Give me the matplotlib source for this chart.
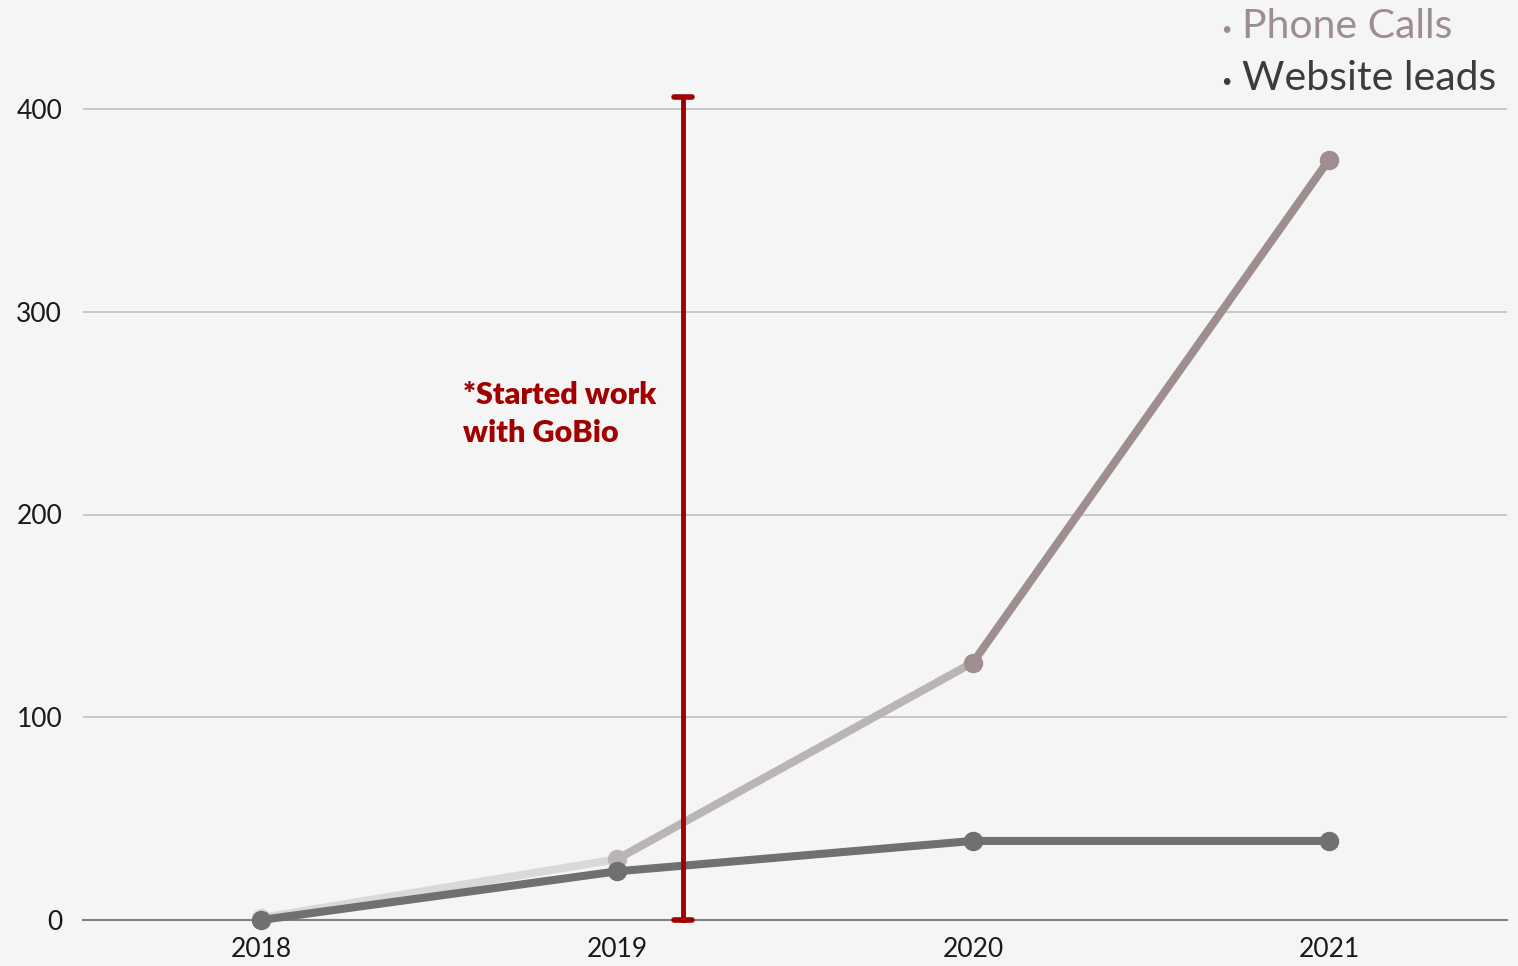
import matplotlib.pyplot as plt

years = [2018, 2019, 2020, 2021]
phone_calls = [1, 30, 127, 375]
website_leads = [0, 24, 39, 39]
y_ticks = [0, 100, 200, 300, 400]

start_year = 2019.185
start_top = 406
note = "*Started work\nwith GoBio"

bg = "#f5f5f5"
phone_seg_colors = ["#d9d9d9", "#bab4b6", "#9e8e8f"]
phone_pt_colors = ["#d9d9d9", "#bab4b6", "#9e8e8f", "#9e8e8f"]
web_color = "#707070"
red = "#a00000"

plt.rcParams['font.family'] = ['Lato', 'DejaVu Sans']

fig = plt.figure(figsize=(15.18, 9.66), dpi=100, facecolor=bg)
ax = fig.add_axes([83 / 1518, 46 / 966, 1424 / 1518, 920 / 966])
ax.set_facecolor(bg)
ax.set_xlim(2017.5, 2021.5)
ax.set_ylim(0, 920 / 2.0275)

for s in ax.spines.values():
    s.set_visible(False)
ax.set_yticks(y_ticks)
ax.set_xticks(years)
ax.set_yticklabels([str(v) for v in y_ticks], fontsize=19, color="#1a1a1a")
ax.set_xticklabels([str(v) for v in years], fontsize=19, color="#1a1a1a")
ax.tick_params(axis='y', length=0, pad=15)
ax.tick_params(axis='x', length=0, pad=12)
for v in y_ticks[1:]:
    ax.axhline(v, color="#c4c4c4", lw=1.3, zorder=1)
ax.axhline(0, color="#808080", lw=1.5, zorder=1, clip_on=False)

# phone calls, one colour per segment
for i in range(len(years) - 1):
    ax.plot(years[i:i + 2], phone_calls[i:i + 2], color=phone_seg_colors[i],
            lw=5.8, solid_capstyle='round', zorder=3)
for x, y, c in zip(years, phone_calls, phone_pt_colors):
    ax.plot(x, y, 'o', ms=13, color=c, zorder=4, clip_on=False)

ax.plot(years, website_leads, color=web_color, lw=5.8, marker='o', ms=13,
        solid_capstyle='round', zorder=5, clip_on=False)

# start marker
ax.plot([start_year, start_year], [0, start_top], color=red, lw=3.5, zorder=6, clip_on=False)
ax.plot([start_year - 0.025, start_year + 0.025], [start_top, start_top], color=red, lw=4,
        solid_capstyle='round', zorder=6)
ax.plot([start_year - 0.025, start_year + 0.025], [0, 0], color=red, lw=4,
        solid_capstyle='round', zorder=6, clip_on=False)
ax.text(2018.567, 266, note, color=red, fontsize=22, fontweight='heavy',
        va='top', ha='left', linespacing=1.45)

# legend
fig.text(1221 / 1518, 1 - 30 / 966, "•", color="#9e8e8f", fontsize=13, va='center', ha='left')
fig.text(1242 / 1518, 1 - 27 / 966, "Phone Calls", color="#9e8e8f", fontsize=29.5,
         va='center', ha='left')
fig.text(1221 / 1518, 1 - 82 / 966, "•", color="#3c3c3c", fontsize=13, va='center', ha='left')
fig.text(1242 / 1518, 1 - 79 / 966, "Website leads", color="#3c3c3c", fontsize=29.5,
         va='center', ha='left')

fig.savefig("out.png", dpi=100, facecolor=bg)
